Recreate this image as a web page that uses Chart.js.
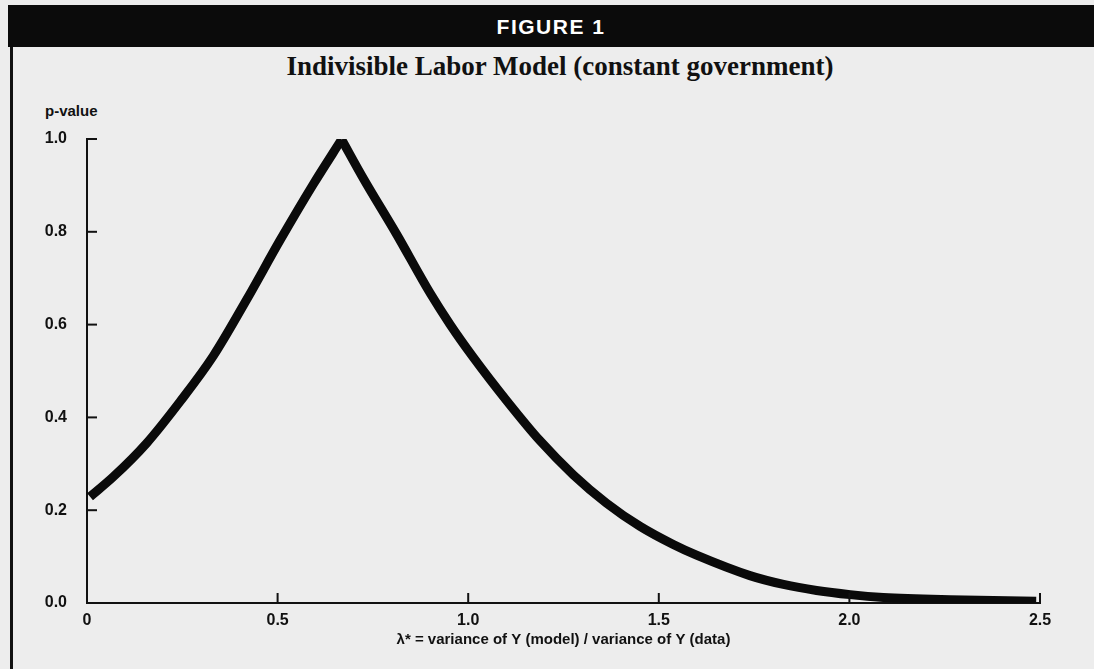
<!DOCTYPE html>
<html>
<head>
<meta charset="utf-8">
<script src="https://cdn.jsdelivr.net/npm/chart.js@4"></script>
<style>
    body { margin: 0; background: #ededed; width: 1094px; height: 669px; overflow: hidden; position: relative; }
    #barra { position: absolute; left: 8px; top: 5px; width: 1086px; height: 42px; background: #0b0b0b;
             color: #fff; font: bold 21px "Liberation Sans", Arial, sans-serif; letter-spacing: 1.5px;
             text-align: center; line-height: 43px; }
    #borda { position: absolute; left: 10px; top: 47px; width: 3px; height: 622px; background: #111; }
    #titulo { position: absolute; left: 0; top: 51px; width: 1120px; text-align: center;
              font: bold 27px "Liberation Serif", "Times New Roman", serif; color: #111; }
    #rotuloY { position: absolute; left: 45px; top: 102px; font: bold 15px "Liberation Sans", Arial, sans-serif; color: #111; }
    canvas { position: absolute; left: 0; top: 0; }
</style>
</head>
<body>
<div id="barra">FIGURE 1</div>
<div id="borda"></div>
<div id="titulo">Indivisible Labor Model (constant government)</div>
<div id="rotuloY">p-value</div>
<canvas id="grafico" width="1094" height="669"></canvas>

<script>
// valores (lambda*, p-value)
const lambdas = [0.008, 0.069, 0.157, 0.244, 0.331, 0.419, 0.506, 0.594, 0.668,
                 0.725, 0.812, 0.900, 0.952, 1.013, 1.101, 1.188, 1.276, 1.363, 1.451,
                 1.538, 1.599, 1.739, 1.827, 1.914, 2.002, 2.089, 2.264, 2.490];
const pValores = [0.229, 0.272, 0.345, 0.434, 0.532, 0.654, 0.781, 0.903, 0.999,
                  0.915, 0.795, 0.668, 0.601, 0.530, 0.436, 0.350, 0.276, 0.215, 0.165,
                  0.126, 0.103, 0.059, 0.040, 0.027, 0.018, 0.012, 0.007, 0.004];

const ticksX = [0, 0.5, 1.0, 1.5, 2.0, 2.5];
const rotulosX = ["0", "0.5", "1.0", "1.5", "2.0", "2.5"];
const ticksY = [0, 0.2, 0.4, 0.6, 0.8, 1.0];
const rotulosY = ["0.0", "0.2", "0.4", "0.6", "0.8", "1.0"];

const fonteEixo = { family: "'Liberation Sans', Arial, sans-serif", size: 16, weight: "bold" };

// o pico é um bico: separo subida e descida para a curva ficar suave sem arredondar o pico
let pico = pValores.indexOf(Math.max(...pValores));
let pontos = lambdas.map((x, i) => ({ x: x, y: pValores[i] }));
let subida = pontos.slice(0, pico + 1);
let descida = pontos.slice(pico);

function serie(dados) {
    return {
        data: dados,
        borderColor: "#0a0a0a",
        borderWidth: 9,
        borderJoinStyle: "miter",
        cubicInterpolationMode: "monotone",
        pointRadius: 0,
        fill: false
    };
}

// marcas dos eixos para dentro, como no original
const marcasInternas = {
    id: "marcasInternas",
    afterDatasetsDraw(chart) {
        let ctx = chart.ctx;
        let area = chart.chartArea;
        ctx.save();
        ctx.strokeStyle = "#111";
        ctx.lineWidth = 2;
        ticksX.forEach(v => {
            if (v === 0) return;
            let px = chart.scales.x.getPixelForValue(v);
            ctx.beginPath();
            ctx.moveTo(px, area.bottom);
            ctx.lineTo(px, area.bottom - 10);
            ctx.stroke();
        });
        ticksY.forEach(v => {
            if (v === 0) return;
            let py = chart.scales.y.getPixelForValue(v);
            ctx.beginPath();
            ctx.moveTo(area.left, py);
            ctx.lineTo(area.left + 10, py);
            ctx.stroke();
        });
        ctx.restore();
    }
};

new Chart(document.getElementById("grafico"), {
    type: "line",
    data: { datasets: [serie(subida), serie(descida)] },
    options: {
        responsive: false,
        animation: false,
        devicePixelRatio: 1,
        layout: { padding: { left: 0, right: 54, top: 139, bottom: 0 } },
        plugins: { legend: { display: false }, tooltip: { enabled: false } },
        scales: {
            x: {
                type: "linear",
                min: 0,
                max: 2.5,
                afterFit: s => { s.height = 66; },
                afterBuildTicks: s => { s.ticks = ticksX.map(v => ({ value: v })); },
                grid: { drawOnChartArea: false, drawTicks: false },
                border: { color: "#111", width: 2 },
                ticks: {
                    color: "#111",
                    font: fonteEixo,
                    padding: 8,
                    maxRotation: 0,
                    callback: v => rotulosX[ticksX.indexOf(v)]
                },
                title: {
                    display: true,
                    text: "λ* = variance of Y (model) / variance of Y (data)",
                    color: "#111",
                    font: { family: "'Liberation Sans', Arial, sans-serif", size: 15, weight: "bold" },
                    padding: { top: 0, bottom: 20 }
                }
            },
            y: {
                min: 0,
                max: 1.0,
                afterFit: s => { s.width = 87; },
                afterBuildTicks: s => { s.ticks = ticksY.map(v => ({ value: v })); },
                grid: { drawOnChartArea: false, drawTicks: false },
                border: { color: "#111", width: 2 },
                ticks: {
                    color: "#111",
                    font: fonteEixo,
                    padding: 20,
                    callback: v => rotulosY[ticksY.indexOf(v)]
                }
            }
        }
    },
    plugins: [marcasInternas]
});
</script>
</body>
</html>
